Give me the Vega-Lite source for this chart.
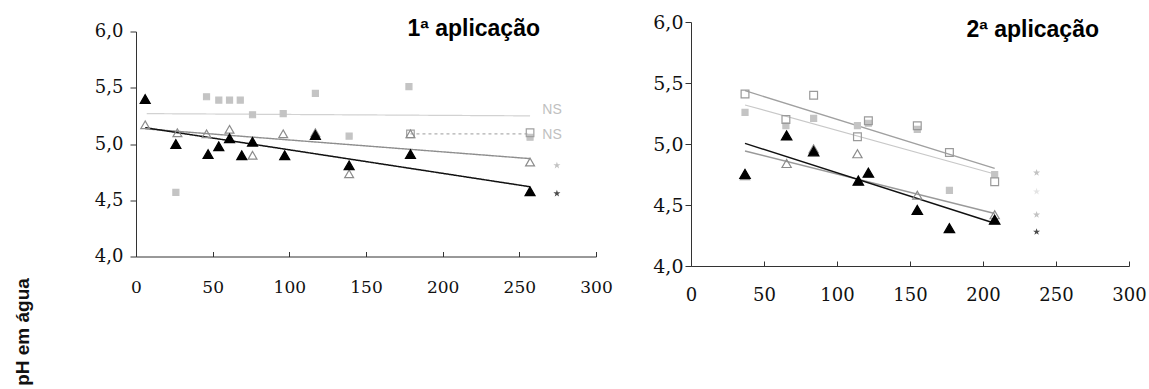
{
  "$schema": "https://vega.github.io/schema/vega-lite/v6.json",
  "background": "white",
  "padding": {"left": 13, "top": 13, "right": 5, "bottom": 0},
  "spacing": 95,
  "bounds": "flush",
  "center": true,
  "config": {
    "view": {"stroke": null},
    "axis": {"grid": false, "domainColor": "#333", "tickColor": "#333", "labelColor": "#111", "labelFont": "DejaVu Serif", "labelFlush": false, "labelOverlap": false}
  },
  "datasets": {
    "lines1": [
      {"s": "sq", "x": 7, "y": 5.27}, {"s": "sq", "x": 257, "y": 5.25},
      {"s": "osq", "x": 179, "y": 5.09}, {"s": "osq", "x": 257, "y": 5.09},
      {"s": "otri", "x": 6, "y": 5.135}, {"s": "otri", "x": 257, "y": 4.87},
      {"s": "b", "x": 6, "y": 5.145}, {"s": "b", "x": 257, "y": 4.62}
    ],
    "pts1": [
      {"s": "sq", "x": 26, "y": 4.57}, {"s": "sq", "x": 46, "y": 5.42}, {"s": "sq", "x": 54, "y": 5.39}, {"s": "sq", "x": 61, "y": 5.39}, {"s": "sq", "x": 68, "y": 5.39}, {"s": "sq", "x": 76, "y": 5.26}, {"s": "sq", "x": 96, "y": 5.27}, {"s": "sq", "x": 117, "y": 5.45}, {"s": "sq", "x": 139, "y": 5.07}, {"s": "sq", "x": 178, "y": 5.51}, {"s": "sq", "x": 257, "y": 5.06},
      {"s": "osq", "x": 179, "y": 5.09}, {"s": "osq", "x": 257, "y": 5.1},
      {"s": "otri", "x": 6, "y": 5.17}, {"s": "otri", "x": 27, "y": 5.1}, {"s": "otri", "x": 46, "y": 5.09}, {"s": "otri", "x": 61, "y": 5.13}, {"s": "otri", "x": 76, "y": 4.9}, {"s": "otri", "x": 96, "y": 5.09}, {"s": "otri", "x": 117, "y": 5.1}, {"s": "otri", "x": 139, "y": 4.735}, {"s": "otri", "x": 179, "y": 5.09}, {"s": "otri", "x": 257, "y": 4.84},
      {"s": "b", "x": 6, "y": 5.4}, {"s": "b", "x": 26, "y": 5.0}, {"s": "b", "x": 47, "y": 4.91}, {"s": "b", "x": 54, "y": 4.98}, {"s": "b", "x": 61, "y": 5.05}, {"s": "b", "x": 69, "y": 4.9}, {"s": "b", "x": 76, "y": 5.02}, {"s": "b", "x": 97, "y": 4.9}, {"s": "b", "x": 117, "y": 5.08}, {"s": "b", "x": 139, "y": 4.81}, {"s": "b", "x": 179, "y": 4.91}, {"s": "b", "x": 257, "y": 4.58}
    ],
    "ann1": [
      {"t": "NS", "c": "light", "x": 265, "y": 5.3},
      {"t": "NS", "c": "light", "x": 265, "y": 5.08},
      {"t": "*", "c": "gray", "x": 274.5, "y": 4.81},
      {"t": "*", "c": "black", "x": 274.5, "y": 4.56}
    ],
    "lines2": [
      {"s": "osq", "x": 37, "y": 5.437}, {"s": "osq", "x": 208, "y": 4.8},
      {"s": "sq", "x": 37, "y": 5.32}, {"s": "sq", "x": 208, "y": 4.754},
      {"s": "otri", "x": 37, "y": 4.943}, {"s": "otri", "x": 208, "y": 4.43},
      {"s": "b", "x": 37, "y": 5.005}, {"s": "b", "x": 208, "y": 4.35}
    ],
    "pts2": [
      {"s": "sq", "x": 37, "y": 5.26}, {"s": "sq", "x": 65, "y": 5.15}, {"s": "sq", "x": 84, "y": 5.21}, {"s": "sq", "x": 114, "y": 5.15}, {"s": "sq", "x": 121.5, "y": 5.17}, {"s": "sq", "x": 155, "y": 5.12}, {"s": "sq", "x": 177, "y": 4.62}, {"s": "sq", "x": 208, "y": 4.75},
      {"s": "osq", "x": 37, "y": 5.41}, {"s": "osq", "x": 65, "y": 5.2}, {"s": "osq", "x": 84, "y": 5.4}, {"s": "osq", "x": 114, "y": 5.06}, {"s": "osq", "x": 121.5, "y": 5.19}, {"s": "osq", "x": 155, "y": 5.15}, {"s": "osq", "x": 177, "y": 4.93}, {"s": "osq", "x": 208, "y": 4.69},
      {"s": "otri", "x": 37, "y": 4.74}, {"s": "otri", "x": 65.5, "y": 4.84}, {"s": "otri", "x": 84, "y": 4.96}, {"s": "otri", "x": 114, "y": 4.92}, {"s": "otri", "x": 155, "y": 4.58}, {"s": "otri", "x": 208, "y": 4.42},
      {"s": "b", "x": 37, "y": 4.755}, {"s": "b", "x": 65.5, "y": 5.07}, {"s": "b", "x": 84, "y": 4.94}, {"s": "b", "x": 114.6, "y": 4.7}, {"s": "b", "x": 121.5, "y": 4.765}, {"s": "b", "x": 155, "y": 4.46}, {"s": "b", "x": 177, "y": 4.31}, {"s": "b", "x": 208, "y": 4.38}
    ],
    "ann2": [
      {"t": "*", "c": "gray", "x": 236.7, "y": 4.765},
      {"t": "*", "c": "light", "x": 236.7, "y": 4.61},
      {"t": "*", "c": "gray", "x": 236.7, "y": 4.42},
      {"t": "*", "c": "black", "x": 236.7, "y": 4.28}
    ]
  },
  "hconcat": [
    {
      "width": 460,
      "height": 225,
      "title": {"text": "1ª aplicação", "anchor": "end", "frame": "group", "orient": "top", "offset": -36, "baseline": "alphabetic", "dx": -56, "font": "Liberation Sans", "fontSize": 23, "fontWeight": "bold", "color": "#000"},
      "resolve": {"scale": {"fill": "independent", "stroke": "independent", "size": "independent", "shape": "independent", "color": "independent"}},
      "layer": [
        {
          "data": {"name": "lines1"},
          "mark": {"type": "line"},
          "encoding": {
            "x": {"field": "x", "type": "quantitative", "scale": {"domain": [0, 300], "nice": false},
              "axis": {"values": [0, 50, 100, 150, 200, 250, 300], "title": null, "tickSize": -5, "labelPadding": 28, "labelFont": "DejaVu Serif", "labelFontSize": 17}},
            "y": {"field": "y", "type": "quantitative", "scale": {"domain": [4, 6], "nice": false, "zero": false},
              "axis": {"values": [4, 4.5, 5, 5.5, 6], "labelExpr": "replace(format(datum.value, '.1f'), '.', ',')", "tickSize": 6, "labelPadding": 7, "labelFont": "DejaVu Serif", "labelFontSize": 18, "labelBaseline": "middle",
                "title": "pH em água", "titleFont": "Liberation Sans", "titleFontSize": 19, "titleFontWeight": "bold", "titleAngle": 270, "titleX": -114, "titleY": 300, "titleAlign": "center", "titleBaseline": "middle", "titleColor": "#111"}},
            "detail": {"field": "s"},
            "color": {"field": "s", "type": "nominal", "legend": null, "scale": {"domain": ["sq", "osq", "otri", "b"], "range": ["#d2d2d2", "#b0b0b0", "#8e8e8e", "#111111"]}},
            "strokeWidth": {"field": "s", "type": "nominal", "legend": null, "scale": {"domain": ["sq", "osq", "otri", "b"], "range": [1.2, 1.5, 1.3, 2.2]}},
            "strokeDash": {"field": "s", "type": "nominal", "legend": null, "scale": {"domain": ["sq", "osq", "otri", "b"], "range": [[1, 0], [3, 3], [1, 0], [1, 0]]}}
          }
        },
        {
          "data": {"name": "pts1"},
          "mark": {"type": "point", "filled": true, "strokeWidth": 1.2, "opacity": 1},
          "encoding": {
            "x": {"field": "x", "type": "quantitative"},
            "y": {"field": "y", "type": "quantitative"},
            "shape": {"field": "s", "type": "nominal", "legend": null, "scale": {"domain": ["sq", "osq", "otri", "b"], "range": ["square", "square", "triangle-up", "triangle-up"]}},
            "size": {"field": "s", "type": "nominal", "legend": null, "scale": {"domain": ["sq", "osq", "otri", "b"], "range": [36, 100, 95, 100]}},
            "fill": {"field": "s", "type": "nominal", "legend": null, "scale": {"domain": ["sq", "osq", "otri", "b"], "range": ["#c4c4c4", "transparent", "transparent", "#000000"]}},
            "stroke": {"field": "s", "type": "nominal", "legend": null, "scale": {"domain": ["sq", "osq", "otri", "b"], "range": ["#c4c4c4", "#a0a0a0", "#8c8c8c", "#000000"]}}
          }
        },
        {
          "data": {"name": "ann1"},
          "transform": [{"filter": "datum.t == '*'"}],
          "mark": {"type": "point", "filled": true, "size": 55, "shape": "M0,-1L0.236,-0.324L0.951,-0.309L0.38,0.124L0.588,0.809L0,0.4L-0.588,0.809L-0.38,0.124L-0.951,-0.309L-0.236,-0.324Z"},
          "encoding": {
            "x": {"field": "x", "type": "quantitative"},
            "y": {"field": "y", "type": "quantitative"},
            "fill": {"field": "c", "type": "nominal", "legend": null, "scale": {"domain": ["light", "gray", "black"], "range": ["#d0d0d0", "#a8a8a8", "#000000"]}}
          }
        },
        {
          "data": {"name": "ann1"},
          "transform": [{"filter": "datum.t == 'NS'"}],
          "mark": {"type": "text", "align": "left", "baseline": "middle", "font": "Liberation Sans", "fontSize": 14},
          "encoding": {
            "x": {"field": "x", "type": "quantitative"},
            "y": {"field": "y", "type": "quantitative"},
            "text": {"field": "t"},
            "color": {"field": "c", "type": "nominal", "legend": null, "scale": {"domain": ["light", "gray", "black"], "range": ["#c0c0c0", "#a8a8a8", "#000000"]}}
          }
        }
      ]
    },
    {
      "width": 438,
      "height": 244,
      "title": {"text": "2ª aplicação", "anchor": "end", "frame": "group", "orient": "top", "offset": -47, "baseline": "alphabetic", "dx": -30, "font": "Liberation Sans", "fontSize": 23, "fontWeight": "bold", "color": "#000"},
      "resolve": {"scale": {"fill": "independent", "stroke": "independent", "size": "independent", "shape": "independent", "color": "independent"}},
      "layer": [
        {
          "data": {"name": "lines2"},
          "mark": {"type": "line"},
          "encoding": {
            "x": {"field": "x", "type": "quantitative", "scale": {"domain": [0, 300], "nice": false},
              "axis": {"values": [0, 50, 100, 150, 200, 250, 300], "title": null, "tickSize": -5, "labelPadding": 25, "labelFont": "DejaVu Serif", "labelFontSize": 18}},
            "y": {"field": "y", "type": "quantitative", "scale": {"domain": [4, 6], "nice": false, "zero": false},
              "axis": {"values": [4, 4.5, 5, 5.5, 6], "labelExpr": "replace(format(datum.value, '.1f'), '.', ',')", "tickSize": 6, "labelPadding": 2, "labelFont": "DejaVu Serif", "labelFontSize": 19, "labelBaseline": "middle", "title": null}},
            "detail": {"field": "s"},
            "color": {"field": "s", "type": "nominal", "legend": null, "scale": {"domain": ["sq", "osq", "otri", "b"], "range": ["#c8c8c8", "#a0a0a0", "#999999", "#111111"]}},
            "strokeWidth": {"field": "s", "type": "nominal", "legend": null, "scale": {"domain": ["sq", "osq", "otri", "b"], "range": [1.2, 1.6, 1.3, 2.2]}}
          }
        },
        {
          "data": {"name": "pts2"},
          "mark": {"type": "point", "filled": true, "strokeWidth": 1.2, "opacity": 1},
          "encoding": {
            "x": {"field": "x", "type": "quantitative"},
            "y": {"field": "y", "type": "quantitative"},
            "shape": {"field": "s", "type": "nominal", "legend": null, "scale": {"domain": ["sq", "osq", "otri", "b"], "range": ["square", "square", "triangle-up", "triangle-up"]}},
            "size": {"field": "s", "type": "nominal", "legend": null, "scale": {"domain": ["sq", "osq", "otri", "b"], "range": [36, 110, 95, 100]}},
            "fill": {"field": "s", "type": "nominal", "legend": null, "scale": {"domain": ["sq", "osq", "otri", "b"], "range": ["#c4c4c4", "transparent", "transparent", "#000000"]}},
            "stroke": {"field": "s", "type": "nominal", "legend": null, "scale": {"domain": ["sq", "osq", "otri", "b"], "range": ["#c4c4c4", "#9a9a9a", "#8c8c8c", "#000000"]}}
          }
        },
        {
          "data": {"name": "ann2"},
          "mark": {"type": "point", "filled": true, "size": 55, "shape": "M0,-1L0.236,-0.324L0.951,-0.309L0.38,0.124L0.588,0.809L0,0.4L-0.588,0.809L-0.38,0.124L-0.951,-0.309L-0.236,-0.324Z"},
          "encoding": {
            "x": {"field": "x", "type": "quantitative"},
            "y": {"field": "y", "type": "quantitative"},
            "fill": {"field": "c", "type": "nominal", "legend": null, "scale": {"domain": ["light", "gray", "black"], "range": ["#d8d8d8", "#aaaaaa", "#000000"]}}
          }
        }
      ]
    }
  ]
}
